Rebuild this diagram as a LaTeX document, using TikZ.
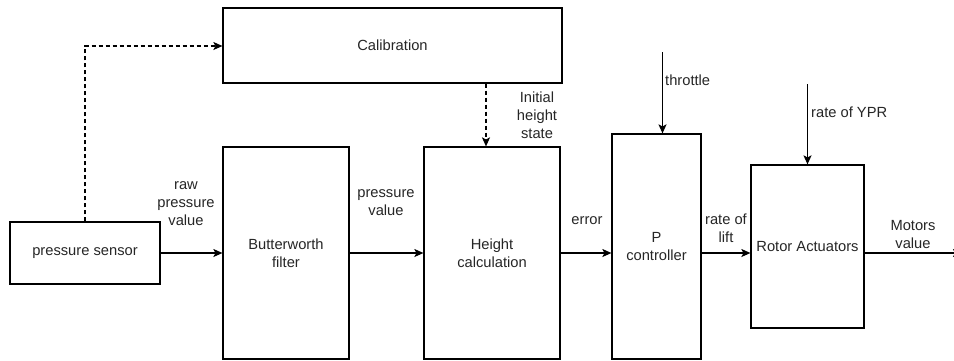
\documentclass[tikz,border=0pt]{standalone}
\usepackage{fontspec}
\setmainfont{Liberation Sans}
\usetikzlibrary{arrows.meta}
\definecolor{txt}{HTML}{262626}
\tikzset{
  block/.style={draw=black, line width=1.2pt, fill=white, inner sep=0pt,
    align=center, text=txt, font=\fontsize{14.7}{18}\selectfont},
  lbl/.style={inner sep=0pt, align=center, text=txt, font=\fontsize{14.7}{18}\selectfont},
  flow/.style={draw=black, line width=1.2pt, -{Stealth[length=9pt,width=8pt,inset=2pt]}},
  dflow/.style={flow, dash pattern=on 4pt off 3pt}
}
\begin{document}
\begin{tikzpicture}[x=1pt,y=-1pt]
\useasboundingbox[fill=white] (0,0) rectangle (954,360);

% processing blocks
\node[block, minimum width=150pt, minimum height=62pt] (sensor) at (85,253) {pressure sensor};
\node[block, minimum width=339pt, minimum height=75pt] (calib) at (392.5,45.5) {Calibration};
\node[block, minimum width=126pt, minimum height=212pt] (butter) at (286,253) {Butterworth\\filter};
\node[block, minimum width=136pt, minimum height=212pt] (height) at (492,253) {Height\\calculation};
\node[block, minimum width=89pt, minimum height=225pt] (pctrl) at (656.5,246.5) {P\\controller};
\node[block, minimum width=113pt, minimum height=163pt] (rotor) at (807.5,246.5) {Rotor Actuators};

% free ends of the external signals
\coordinate (thr) at (662.5,52);
\coordinate (ypr) at (807.5,84);
\coordinate (out) at (962,253);
\coordinate (bend) at (85,46);

% signal flow
\draw[flow] (sensor.east) -- (butter.west);
\draw[flow] (butter.east) -- (height.west);
\draw[flow] (height.east) -- (pctrl.west |- height.east);
\draw[flow] (pctrl.east |- height.east) -- (rotor.west |- height.east);
\draw[flow] (rotor.east |- height.east) -- (out);
\draw[flow] (thr) -- (thr |- pctrl.north);
\draw[flow] (ypr) -- (rotor.north);
\draw[dflow] (sensor.north) -- (bend) -- (calib.west |- bend);
\draw[dflow] (calib.south -| 486,0) -- (height.north -| 486,0);

% signal labels
\node[lbl] (l1) at (186,203.5) {raw\\pressure\\value};
\node[lbl] (l2) at (386,203) {pressure\\value};
\node[lbl] (l3) at (537,115) {Initial\\height\\state};
\node[lbl] (l4) at (587,221) {error};
\node[lbl, anchor=west] (l5) at (665,80) {throttle};
\node[lbl] (l6) at (726,228) {rate of\\lift};
\node[lbl, anchor=west] (l7) at (811,112) {rate of YPR};
\node[lbl] (l8) at (913,234.5) {Motors\\value};
\end{tikzpicture}
\end{document}
